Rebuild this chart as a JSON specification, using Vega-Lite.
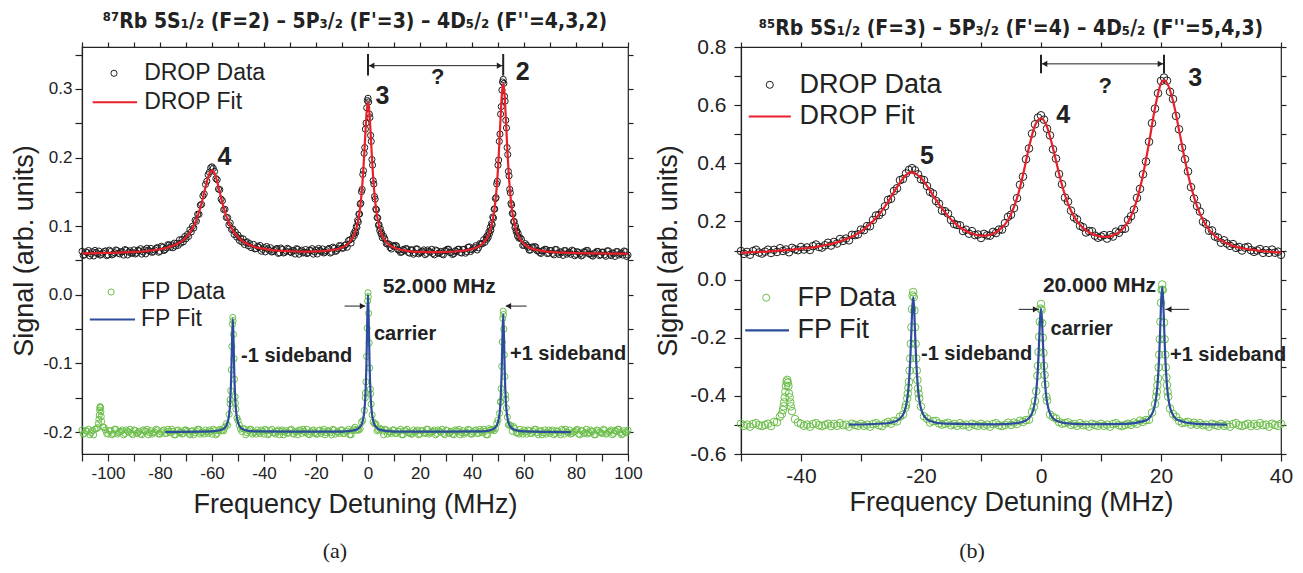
{
"$schema": "https://vega.github.io/schema/vega-lite/v6.json",
"background": "white",
"padding": {"left": 10, "top": 10, "right": 8, "bottom": 6},
"bounds": "flush",
"spacing": 113,
"config": {
 "view": {"stroke": "#222", "strokeWidth": 1.2},
 "axis": {"grid": false, "domainColor": "#222", "domainWidth": 1.2, "tickColor": "#222", "tickWidth": 1.2, "tickSize": 7, "labelColor": "#222", "titleColor": "#222", "labelFont": "Liberation Sans", "titleFont": "Liberation Sans", "titleFontWeight": "normal"},
 "title": {"font": "Liberation Sans Narrow, DejaVu Sans Condensed, sans-serif", "fontSize": 21, "fontWeight": "bold", "color": "#222", "anchor": "middle"},
 "text": {"font": "Liberation Sans", "color": "#222"}
},
"datasets": {
"Ld": [{"x":-110,"y":0.0633},{"x":-109,"y":0.0584},{"x":-108,"y":0.0614},{"x":-107,"y":0.0565},{"x":-106,"y":0.0626},{"x":-105,"y":0.0646},{"x":-104,"y":0.0597},{"x":-103,"y":0.0578},{"x":-102,"y":0.0608},{"x":-101,"y":0.0639},{"x":-100,"y":0.058},{"x":-99,"y":0.0631},{"x":-98,"y":0.0592},{"x":-97,"y":0.0653},{"x":-96,"y":0.0605},{"x":-95,"y":0.0626},{"x":-94,"y":0.0578},{"x":-93,"y":0.0649},{"x":-92,"y":0.0621},{"x":-91,"y":0.0602},{"x":-90,"y":0.0654},{"x":-89,"y":0.0607},{"x":-88,"y":0.064},{"x":-87,"y":0.0592},{"x":-86,"y":0.0655},{"x":-85,"y":0.0678},{"x":-84,"y":0.0633},{"x":-83,"y":0.0618},{"x":-82,"y":0.0653},{"x":-81,"y":0.0688},{"x":-80,"y":0.0633},{"x":-79,"y":0.0691},{"x":-78,"y":0.0659},{"x":-77,"y":0.073},{"x":-76,"y":0.069},
{"x":-109.5,"y":0.0573},{"x":-108.5,"y":0.0624},{"x":-107.5,"y":0.0645},{"x":-106.5,"y":0.0595},{"x":-105.5,"y":0.0566},{"x":-104.5,"y":0.0617},{"x":-103.5,"y":0.0637},{"x":-102.5,"y":0.0588},{"x":-101.5,"y":0.0629},{"x":-100.5,"y":0.057},{"x":-99.5,"y":0.065},{"x":-98.5,"y":0.0581},{"x":-97.5,"y":0.0612},{"x":-96.5,"y":0.0644},{"x":-95.5,"y":0.0595},{"x":-94.5,"y":0.0627},{"x":-93.5,"y":0.0658},{"x":-92.5,"y":0.058},{"x":-91.5,"y":0.0641},{"x":-90.5,"y":0.0613},{"x":-89.5,"y":0.0595},{"x":-88.5,"y":0.0648},{"x":-87.5,"y":0.0671},{"x":-86.5,"y":0.0623},{"x":-85.5,"y":0.0596},{"x":-84.5,"y":0.065},{"x":-83.5,"y":0.0675},{"x":-82.5,"y":0.063},{"x":-81.5,"y":0.0675},{"x":-80.5,"y":0.062},{"x":-79.5,"y":0.0707},{"x":-78.5,"y":0.0645},{"x":-77.5,"y":0.0684},{"x":-76.5,"y":0.0725},
{"x":-75.5,"y":0.0727},{"x":-75,"y":0.0685},{"x":-74.5,"y":0.0752},{"x":-74,"y":0.071},{"x":-73.5,"y":0.075},{"x":-73,"y":0.072},{"x":-72.5,"y":0.0801},{"x":-72,"y":0.0752},{"x":-71.5,"y":0.0806},{"x":-71,"y":0.0772},{"x":-70.5,"y":0.0848},{"x":-70,"y":0.0816},{"x":-69.5,"y":0.0877},{"x":-69,"y":0.085},{"x":-68.5,"y":0.0946},{"x":-68,"y":0.0915},{"x":-67.5,"y":0.0998},{"x":-67,"y":0.0974},{"x":-66.5,"y":0.1086},{"x":-66,"y":0.1072},{"x":-65.5,"y":0.1174},{"x":-65,"y":0.1172},{"x":-64.5,"y":0.1306},{"x":-64,"y":0.1316},{"x":-63.5,"y":0.1441},{"x":-63,"y":0.1469},{"x":-62.5,"y":0.1608},{"x":-62,"y":0.1654},{"x":-61.5,"y":0.175},{"x":-61,"y":0.1785},{"x":-60.5,"y":0.185},{"x":-60,"y":0.1864},{"x":-59.5,"y":0.1841},{"x":-59,"y":0.1797},{"x":-58.5,"y":0.1692},{"x":-58,"y":0.1676},{"x":-57.5,"y":0.154},{"x":-57,"y":0.1531},{"x":-56.5,"y":0.1393},{"x":-56,"y":0.1369},{"x":-55.5,"y":0.1239},{"x":-55,"y":0.1245},{"x":-54.5,"y":0.1127},{"x":-54,"y":0.1125},{"x":-53.5,"y":0.1019},{"x":-53,"y":0.1047},{"x":-52.5,"y":0.0951},{"x":-52,"y":0.0958},{"x":-51.5,"y":0.0879},{"x":-51,"y":0.0913},{"x":-50.5,"y":0.084},{"x":-50,"y":0.087},{"x":-49.5,"y":0.0792},{"x":-49,"y":0.0825},{"x":-48.5,"y":0.0769},{"x":-48,"y":0.0814},{"x":-47.5,"y":0.0732},{"x":-47,"y":0.0762},{"x":-46.5,"y":0.0772},{"x":-46,"y":0.0712},{"x":-45.5,"y":0.0745},{"x":-45,"y":0.0688},
{"x":-44,"y":0.0734},{"x":-43,"y":0.0673},{"x":-42,"y":0.0692},{"x":-41,"y":0.0635},{"x":-40,"y":0.0688},{"x":-39,"y":0.0703},{"x":-38,"y":0.0648},{"x":-37,"y":0.0623},{"x":-36,"y":0.0648},{"x":-35,"y":0.0674},{"x":-34,"y":0.0612},{"x":-33,"y":0.066},{"x":-32,"y":0.0618},{"x":-31,"y":0.0676},{"x":-30,"y":0.0625},{"x":-29,"y":0.0644},{"x":-28,"y":0.0593},{"x":-27,"y":0.0662},{"x":-26,"y":0.0631},{"x":-25,"y":0.061},{"x":-24,"y":0.066},{"x":-23,"y":0.0611},{"x":-22,"y":0.0642},{"x":-21,"y":0.0592},{"x":-20,"y":0.0653},{"x":-19,"y":0.0675},{"x":-18,"y":0.0627},{"x":-17,"y":0.0609},{"x":-16,"y":0.0642},{"x":-15,"y":0.0675},{"x":-14,"y":0.0621},{"x":-13,"y":0.0677},{"x":-12,"y":0.0645},{"x":-11,"y":0.0716},{"x":-10,"y":0.068},{"x":-9,"y":0.0719},{"x":-8,"y":0.0693},{"x":-7,"y":0.08},{"x":-6,"y":0.0823},
{"x":-43.5,"y":0.0668},{"x":-42.5,"y":0.0707},{"x":-41.5,"y":0.0718},{"x":-40.5,"y":0.0661},{"x":-39.5,"y":0.0625},{"x":-38.5,"y":0.067},{"x":-37.5,"y":0.0685},{"x":-36.5,"y":0.063},{"x":-35.5,"y":0.0666},{"x":-34.5,"y":0.0603},{"x":-33.5,"y":0.0681},{"x":-32.5,"y":0.0609},{"x":-31.5,"y":0.0637},{"x":-30.5,"y":0.0665},{"x":-29.5,"y":0.0614},{"x":-28.5,"y":0.0643},{"x":-27.5,"y":0.0672},{"x":-26.5,"y":0.0591},{"x":-25.5,"y":0.065},{"x":-24.5,"y":0.062},{"x":-23.5,"y":0.06},{"x":-22.5,"y":0.0651},{"x":-21.5,"y":0.0672},{"x":-20.5,"y":0.0623},{"x":-19.5,"y":0.0594},{"x":-18.5,"y":0.0646},{"x":-17.5,"y":0.0668},{"x":-16.5,"y":0.062},{"x":-15.5,"y":0.0663},{"x":-14.5,"y":0.0608},{"x":-13.5,"y":0.0694},{"x":-12.5,"y":0.0631},{"x":-11.5,"y":0.067},{"x":-10.5,"y":0.0713},{"x":-9.5,"y":0.0679},{"x":-8.5,"y":0.073},{"x":-7.5,"y":0.079},{"x":-6.5,"y":0.0754},
{"x":-5.5,"y":0.089},{"x":-5.25,"y":0.0862},{"x":-5,"y":0.0926},{"x":-4.75,"y":0.0904},{"x":-4.5,"y":0.0996},{"x":-4.25,"y":0.0982},{"x":-4,"y":0.1083},{"x":-3.75,"y":0.106},{"x":-3.5,"y":0.1175},{"x":-3.25,"y":0.1177},{"x":-3,"y":0.132},{"x":-2.75,"y":0.1334},{"x":-2.5,"y":0.1502},{"x":-2.25,"y":0.1534},{"x":-2,"y":0.1753},{"x":-1.75,"y":0.1809},{"x":-1.5,"y":0.2061},{"x":-1.25,"y":0.2145},{"x":-1,"y":0.2413},{"x":-0.75,"y":0.2502},{"x":-0.5,"y":0.2724},{"x":-0.25,"y":0.2829},{"x":0,"y":0.2863},{"x":0.25,"y":0.2809},{"x":0.5,"y":0.2634},{"x":0.75,"y":0.2582},{"x":1,"y":0.2323},{"x":1.25,"y":0.2235},{"x":1.5,"y":0.1971},{"x":1.75,"y":0.1889},{"x":2,"y":0.1663},{"x":2.25,"y":0.1614},{"x":2.5,"y":0.1432},{"x":2.75,"y":0.1394},{"x":3,"y":0.125},{"x":3.25,"y":0.1237},{"x":3.5,"y":0.1125},{"x":3.75,"y":0.112},{"x":4,"y":0.1013},{"x":4.25,"y":0.1022},{"x":4.5,"y":0.0936},{"x":4.75,"y":0.0964},{"x":5,"y":0.0886},{"x":5.25,"y":0.0902},{"x":5.5,"y":0.083},
{"x":6,"y":0.0853},{"x":7,"y":0.0748},{"x":8,"y":0.0741},{"x":9,"y":0.0666},{"x":10,"y":0.0707},{"x":11,"y":0.0712},{"x":12,"y":0.065},{"x":13,"y":0.0623},{"x":14,"y":0.0646},{"x":15,"y":0.067},{"x":16,"y":0.0606},{"x":17,"y":0.0653},{"x":18,"y":0.061},{"x":19,"y":0.0667},{"x":20,"y":0.0615},{"x":21,"y":0.0634},{"x":22,"y":0.0584},{"x":23,"y":0.0653},{"x":24,"y":0.0622},{"x":25,"y":0.0602},{"x":26,"y":0.0652},{"x":27,"y":0.0602},{"x":28,"y":0.0632},{"x":29,"y":0.0582},{"x":30,"y":0.0643},{"x":31,"y":0.0664},{"x":32,"y":0.0616},{"x":33,"y":0.0598},{"x":34,"y":0.0631},{"x":35,"y":0.0664},{"x":36,"y":0.0608},{"x":37,"y":0.0663},{"x":38,"y":0.0629},{"x":39,"y":0.0697},{"x":40,"y":0.0656},{"x":41,"y":0.0688},{"x":42,"y":0.0653},{"x":43,"y":0.0745},{"x":44,"y":0.0744},{"x":45,"y":0.0765},
{"x":6.5,"y":0.0814},{"x":7.5,"y":0.0738},{"x":8.5,"y":0.0688},{"x":9.5,"y":0.0716},{"x":10.5,"y":0.0719},{"x":11.5,"y":0.0656},{"x":12.5,"y":0.0616},{"x":13.5,"y":0.066},{"x":14.5,"y":0.0673},{"x":15.5,"y":0.0618},{"x":16.5,"y":0.0654},{"x":17.5,"y":0.0591},{"x":18.5,"y":0.0668},{"x":19.5,"y":0.0596},{"x":20.5,"y":0.0624},{"x":21.5,"y":0.0654},{"x":22.5,"y":0.0603},{"x":23.5,"y":0.0632},{"x":24.5,"y":0.0662},{"x":25.5,"y":0.0582},{"x":26.5,"y":0.0642},{"x":27.5,"y":0.0612},{"x":28.5,"y":0.0592},{"x":29.5,"y":0.0642},{"x":30.5,"y":0.0663},{"x":31.5,"y":0.0615},{"x":32.5,"y":0.0587},{"x":33.5,"y":0.0639},{"x":34.5,"y":0.0662},{"x":35.5,"y":0.0616},{"x":36.5,"y":0.066},{"x":37.5,"y":0.0606},{"x":38.5,"y":0.0693},{"x":39.5,"y":0.0631},{"x":40.5,"y":0.0672},{"x":41.5,"y":0.0715},{"x":42.5,"y":0.0684},{"x":43.5,"y":0.0739},{"x":44.5,"y":0.0804},
{"x":45.5,"y":0.0842},{"x":45.75,"y":0.0808},{"x":46,"y":0.0866},{"x":46.25,"y":0.0836},{"x":46.5,"y":0.0918},{"x":46.75,"y":0.0892},{"x":47,"y":0.098},{"x":47.25,"y":0.0941},{"x":47.5,"y":0.1037},{"x":47.75,"y":0.1018},{"x":48,"y":0.1134},{"x":48.25,"y":0.1117},{"x":48.5,"y":0.1248},{"x":48.75,"y":0.1249},{"x":49,"y":0.1401},{"x":49.25,"y":0.1416},{"x":49.5,"y":0.1616},{"x":49.75,"y":0.1653},{"x":50,"y":0.1888},{"x":50.25,"y":0.1963},{"x":50.5,"y":0.2235},{"x":50.75,"y":0.2341},{"x":51,"y":0.2632},{"x":51.25,"y":0.2742},{"x":51.5,"y":0.2982},{"x":51.75,"y":0.31},{"x":52,"y":0.3138},{"x":52.25,"y":0.308},{"x":52.5,"y":0.2892},{"x":52.75,"y":0.2822},{"x":53,"y":0.2542},{"x":53.25,"y":0.2431},{"x":53.5,"y":0.2145},{"x":53.75,"y":0.2043},{"x":54,"y":0.1798},{"x":54.25,"y":0.1733},{"x":54.5,"y":0.1536},{"x":54.75,"y":0.1486},{"x":55,"y":0.1331},{"x":55.25,"y":0.1309},{"x":55.5,"y":0.1188},{"x":55.75,"y":0.1177},{"x":56,"y":0.1064},{"x":56.25,"y":0.1068},{"x":56.5,"y":0.0977},{"x":56.75,"y":0.1001},{"x":57,"y":0.092},{"x":57.25,"y":0.0932},{"x":57.5,"y":0.0858},{"x":57.75,"y":0.0896},{"x":58,"y":0.0826},{"x":58.5,"y":0.0832},
{"x":59,"y":0.0812},{"x":60,"y":0.0721},{"x":61,"y":0.0722},{"x":62,"y":0.065},{"x":63,"y":0.0695},{"x":64,"y":0.0702},{"x":65,"y":0.0643},{"x":66,"y":0.0615},{"x":67,"y":0.0639},{"x":68,"y":0.0663},{"x":69,"y":0.0599},{"x":70,"y":0.0645},{"x":71,"y":0.0602},{"x":72,"y":0.066},{"x":73,"y":0.0608},{"x":74,"y":0.0626},{"x":75,"y":0.0574},{"x":76,"y":0.0643},{"x":77,"y":0.0611},{"x":78,"y":0.059},{"x":79,"y":0.0639},{"x":80,"y":0.0588},{"x":81,"y":0.0617},{"x":82,"y":0.0566},{"x":83,"y":0.0626},{"x":84,"y":0.0645},{"x":85,"y":0.0594},{"x":86,"y":0.0574},{"x":87,"y":0.0603},{"x":88,"y":0.0632},{"x":89,"y":0.0572},{"x":90,"y":0.0621},{"x":91,"y":0.0581},{"x":92,"y":0.064},{"x":93,"y":0.059},{"x":94,"y":0.061},{"x":95,"y":0.0559},{"x":96,"y":0.0629},{"x":97,"y":0.0599},{"x":98,"y":0.0578},{"x":99,"y":0.0628},{"x":100,"y":0.0578},
{"x":59.5,"y":0.072},{"x":60.5,"y":0.0746},{"x":61.5,"y":0.0691},{"x":62.5,"y":0.0652},{"x":63.5,"y":0.0688},{"x":64.5,"y":0.0697},{"x":65.5,"y":0.0639},{"x":66.5,"y":0.0602},{"x":67.5,"y":0.0646},{"x":68.5,"y":0.0661},{"x":69.5,"y":0.0607},{"x":70.5,"y":0.0644},{"x":71.5,"y":0.0581},{"x":72.5,"y":0.0659},{"x":73.5,"y":0.0587},{"x":74.5,"y":0.0615},{"x":75.5,"y":0.0644},{"x":76.5,"y":0.0592},{"x":77.5,"y":0.0621},{"x":78.5,"y":0.065},{"x":79.5,"y":0.0569},{"x":80.5,"y":0.0628},{"x":81.5,"y":0.0597},{"x":82.5,"y":0.0576},{"x":83.5,"y":0.0625},{"x":84.5,"y":0.0645},{"x":85.5,"y":0.0594},{"x":86.5,"y":0.0563},{"x":87.5,"y":0.0613},{"x":88.5,"y":0.0632},{"x":89.5,"y":0.0582},{"x":90.5,"y":0.0621},{"x":91.5,"y":0.0561},{"x":92.5,"y":0.064},{"x":93.5,"y":0.057},{"x":94.5,"y":0.06},{"x":95.5,"y":0.0629},{"x":96.5,"y":0.0579},{"x":97.5,"y":0.0608},{"x":98.5,"y":0.0638},{"x":99.5,"y":0.0558}],
"Lf": [{"x":-110,"y":0.0603},{"x":-100,"y":0.061},{"x":-90,"y":0.0624},{"x":-85,"y":0.0638},{"x":-80,"y":0.0663},{"x":-76,"y":0.07},{"x":-72,"y":0.0772},{"x":-70,"y":0.0836},{"x":-68,"y":0.0935},{"x":-66,"y":0.1092},{"x":-65,"y":0.1202},{"x":-64,"y":0.1336},{"x":-63,"y":0.1489},{"x":-62,"y":0.1644},{"x":-61,"y":0.1765},{"x":-60,"y":0.1814},{"x":-59,"y":0.1767},{"x":-58,"y":0.1646},{"x":-57,"y":0.1491},{"x":-56,"y":0.1339},{"x":-55,"y":0.1205},{"x":-54,"y":0.1095},{"x":-52,"y":0.0938},{"x":-50,"y":0.084},{"x":-48,"y":0.0774},{"x":-46,"y":0.0732},{"x":-44,"y":0.0704},{"x":-40,"y":0.0668},{"x":-35,"y":0.0644},{"x":-30,"y":0.0635},{"x":-25,"y":0.063},{"x":-20,"y":0.0633},{"x":-15,"y":0.0645},{"x":-10,"y":0.069},{"x":-8,"y":0.0733},{"x":-6,"y":0.0823},{"x":-5,"y":0.0906},{"x":-4,"y":0.1043},{"x":-3.5,"y":0.1145},{"x":-3,"y":0.128},{"x":-2.5,"y":0.1462},{"x":-2,"y":0.1703},{"x":-1.5,"y":0.2011},{"x":-1,"y":0.2363},{"x":-0.5,"y":0.2674},{"x":0,"y":0.2803},{"x":0.5,"y":0.2674},{"x":1,"y":0.2363},{"x":1.5,"y":0.2011},{"x":2,"y":0.1703},{"x":2.5,"y":0.1462},{"x":3,"y":0.128},{"x":3.5,"y":0.1145},{"x":4,"y":0.1043},{"x":5,"y":0.0906},{"x":6,"y":0.0823},{"x":8,"y":0.0731},{"x":10,"y":0.0687},{"x":15,"y":0.064},{"x":20,"y":0.0625},{"x":25,"y":0.0622},{"x":30,"y":0.0623},{"x":35,"y":0.0634},{"x":40,"y":0.0666},{"x":42,"y":0.0693},{"x":44,"y":0.0744},{"x":46,"y":0.0846},{"x":47,"y":0.094},{"x":48,"y":0.1094},{"x":48.5,"y":0.1208},{"x":49,"y":0.1361},{"x":49.5,"y":0.1566},{"x":50,"y":0.1838},{"x":50.5,"y":0.2185},{"x":51,"y":0.2582},{"x":51.5,"y":0.2932},{"x":52,"y":0.3078},{"x":52.5,"y":0.2932},{"x":53,"y":0.2582},{"x":53.5,"y":0.2185},{"x":54,"y":0.1838},{"x":54.5,"y":0.1566},{"x":55,"y":0.1361},{"x":55.5,"y":0.1208},{"x":56,"y":0.1094},{"x":57,"y":0.094},{"x":58,"y":0.0846},{"x":60,"y":0.0741},{"x":62,"y":0.069},{"x":64,"y":0.0662},{"x":68,"y":0.0633},{"x":75,"y":0.0614},{"x":80,"y":0.0608},{"x":90,"y":0.0601},{"x":100,"y":0.0598}],
"Lp": [{"x":-110,"y":-0.197},{"x":-109,"y":-0.202},{"x":-108,"y":-0.199},{"x":-107,"y":-0.204},{"x":-106,"y":-0.198},{"x":-105,"y":-0.196},{"x":-104,"y":-0.1936},{"x":-102,"y":-0.1926},{"x":-101,"y":-0.197},{"x":-100,"y":-0.203},{"x":-99,"y":-0.198},{"x":-98,"y":-0.202},{"x":-97,"y":-0.196},{"x":-96,"y":-0.201},{"x":-95,"y":-0.199},{"x":-94,"y":-0.204},{"x":-93,"y":-0.197},{"x":-92,"y":-0.2},{"x":-91,"y":-0.202},{"x":-90,"y":-0.197},{"x":-89,"y":-0.202},{"x":-88,"y":-0.199},{"x":-87,"y":-0.204},{"x":-86,"y":-0.198},{"x":-85,"y":-0.196},{"x":-84,"y":-0.201},{"x":-83,"y":-0.203},{"x":-82,"y":-0.2},{"x":-81,"y":-0.197},{"x":-80,"y":-0.203},{"x":-79,"y":-0.198},{"x":-78,"y":-0.202},{"x":-77,"y":-0.196},{"x":-76,"y":-0.201},{"x":-75,"y":-0.199},{"x":-74,"y":-0.204},{"x":-73,"y":-0.197},{"x":-72,"y":-0.2},{"x":-71,"y":-0.202},{"x":-70,"y":-0.197},{"x":-69,"y":-0.202},{"x":-68,"y":-0.199},{"x":-67,"y":-0.204},{"x":-66,"y":-0.198},{"x":-65,"y":-0.196},{"x":-64,"y":-0.201},{"x":-63,"y":-0.203},{"x":-62,"y":-0.2},{"x":-61,"y":-0.197},{"x":-60,"y":-0.203},{"x":-59,"y":-0.198},{"x":-58,"y":-0.202},{"x":-57,"y":-0.196},{"x":-56,"y":-0.1973},{"x":-55,"y":-0.1926},{"x":-54,"y":-0.1902},{"x":-53,"y":-0.1528},{"x":-51,"y":-0.1578},{"x":-50,"y":-0.1832},{"x":-49,"y":-0.1956},{"x":-48,"y":-0.1953},{"x":-47,"y":-0.204},{"x":-46,"y":-0.198},{"x":-45,"y":-0.196},{"x":-44,"y":-0.201},{"x":-43,"y":-0.203},{"x":-42,"y":-0.2},{"x":-41,"y":-0.197},{"x":-40,"y":-0.203},{"x":-39,"y":-0.198},{"x":-38,"y":-0.202},{"x":-37,"y":-0.196},{"x":-36,"y":-0.201},{"x":-35,"y":-0.199},{"x":-34,"y":-0.204},{"x":-33,"y":-0.197},{"x":-32,"y":-0.2},{"x":-31,"y":-0.202},{"x":-30,"y":-0.197},{"x":-29,"y":-0.202},{"x":-28,"y":-0.199},{"x":-27,"y":-0.204},{"x":-26,"y":-0.198},{"x":-25,"y":-0.196},{"x":-24,"y":-0.201},{"x":-23,"y":-0.203},{"x":-22,"y":-0.2},{"x":-21,"y":-0.197},{"x":-20,"y":-0.203},{"x":-19,"y":-0.198},{"x":-18,"y":-0.202},{"x":-17,"y":-0.196},{"x":-16,"y":-0.201},{"x":-15,"y":-0.199},{"x":-14,"y":-0.204},{"x":-13,"y":-0.197},{"x":-12,"y":-0.2},{"x":-11,"y":-0.202},{"x":-10,"y":-0.197},{"x":-9,"y":-0.202},{"x":-8,"y":-0.199},{"x":-7,"y":-0.204},{"x":-6,"y":-0.198},{"x":-5,"y":-0.1931},{"x":-4,"y":-0.1965},{"x":-3,"y":-0.1952},{"x":-2,"y":-0.1832},{"x":-1,"y":-0.1432},{"x":1,"y":-0.1442},{"x":2,"y":-0.1852},{"x":3,"y":-0.1882},{"x":4,"y":-0.1965},{"x":5,"y":-0.1961},{"x":6,"y":-0.204},{"x":7,"y":-0.197},{"x":8,"y":-0.2},{"x":9,"y":-0.202},{"x":10,"y":-0.197},{"x":11,"y":-0.202},{"x":12,"y":-0.199},{"x":13,"y":-0.204},{"x":14,"y":-0.198},{"x":15,"y":-0.196},{"x":16,"y":-0.201},{"x":17,"y":-0.203},{"x":18,"y":-0.2},{"x":19,"y":-0.197},{"x":20,"y":-0.203},{"x":21,"y":-0.198},{"x":22,"y":-0.202},{"x":23,"y":-0.196},{"x":24,"y":-0.201},{"x":25,"y":-0.199},{"x":26,"y":-0.204},{"x":27,"y":-0.197},{"x":28,"y":-0.2},{"x":29,"y":-0.202},{"x":30,"y":-0.197},{"x":31,"y":-0.202},{"x":32,"y":-0.199},{"x":33,"y":-0.204},{"x":34,"y":-0.198},{"x":35,"y":-0.196},{"x":36,"y":-0.201},{"x":37,"y":-0.203},{"x":38,"y":-0.2},{"x":39,"y":-0.197},{"x":40,"y":-0.203},{"x":41,"y":-0.198},{"x":42,"y":-0.202},{"x":43,"y":-0.196},{"x":44,"y":-0.201},{"x":45,"y":-0.199},{"x":46,"y":-0.204},{"x":47,"y":-0.197},{"x":48,"y":-0.1961},{"x":49,"y":-0.1952},{"x":50,"y":-0.1825},{"x":51,"y":-0.1554},{"x":53,"y":-0.1524},{"x":54,"y":-0.1895},{"x":55,"y":-0.1912},{"x":56,"y":-0.1921},{"x":57,"y":-0.201},{"x":58,"y":-0.203},{"x":59,"y":-0.2},{"x":60,"y":-0.197},{"x":61,"y":-0.203},{"x":62,"y":-0.198},{"x":63,"y":-0.202},{"x":64,"y":-0.196},{"x":65,"y":-0.201},{"x":66,"y":-0.199},{"x":67,"y":-0.204},{"x":68,"y":-0.197},{"x":69,"y":-0.2},{"x":70,"y":-0.202},{"x":71,"y":-0.197},{"x":72,"y":-0.202},{"x":73,"y":-0.199},{"x":74,"y":-0.204},{"x":75,"y":-0.198},{"x":76,"y":-0.196},{"x":77,"y":-0.201},{"x":78,"y":-0.203},{"x":79,"y":-0.2},{"x":80,"y":-0.197},{"x":81,"y":-0.203},{"x":82,"y":-0.198},{"x":83,"y":-0.202},{"x":84,"y":-0.196},{"x":85,"y":-0.201},{"x":86,"y":-0.199},{"x":87,"y":-0.204},{"x":88,"y":-0.197},{"x":89,"y":-0.2},{"x":90,"y":-0.202},{"x":91,"y":-0.197},{"x":92,"y":-0.202},{"x":93,"y":-0.199},{"x":94,"y":-0.204},{"x":95,"y":-0.198},{"x":96,"y":-0.196},{"x":97,"y":-0.201},{"x":98,"y":-0.203},{"x":99,"y":-0.2},{"x":100,"y":-0.197},
{"x":-109.5,"y":-0.203},{"x":-108.5,"y":-0.198},{"x":-107.5,"y":-0.196},{"x":-106.5,"y":-0.201},{"x":-105.5,"y":-0.204},{"x":-104.5,"y":-0.1953},{"x":-101.5,"y":-0.1933},{"x":-100.5,"y":-0.202},{"x":-99.5,"y":-0.198},{"x":-98.5,"y":-0.204},{"x":-97.5,"y":-0.196},{"x":-96.5,"y":-0.203},{"x":-95.5,"y":-0.2},{"x":-94.5,"y":-0.197},{"x":-93.5,"y":-0.202},{"x":-92.5,"y":-0.199},{"x":-91.5,"y":-0.196},{"x":-90.5,"y":-0.204},{"x":-89.5,"y":-0.198},{"x":-88.5,"y":-0.201},{"x":-87.5,"y":-0.203},{"x":-86.5,"y":-0.197},{"x":-85.5,"y":-0.199},{"x":-84.5,"y":-0.204},{"x":-83.5,"y":-0.198},{"x":-82.5,"y":-0.201},{"x":-81.5,"y":-0.196},{"x":-80.5,"y":-0.203},{"x":-79.5,"y":-0.2},{"x":-78.5,"y":-0.197},{"x":-77.5,"y":-0.202},{"x":-76.5,"y":-0.199},{"x":-75.5,"y":-0.196},{"x":-74.5,"y":-0.204},{"x":-73.5,"y":-0.198},{"x":-72.5,"y":-0.201},{"x":-71.5,"y":-0.203},{"x":-70.5,"y":-0.197},{"x":-69.5,"y":-0.199},{"x":-68.5,"y":-0.204},{"x":-67.5,"y":-0.198},{"x":-66.5,"y":-0.201},{"x":-65.5,"y":-0.196},{"x":-64.5,"y":-0.203},{"x":-63.5,"y":-0.2},{"x":-62.5,"y":-0.197},{"x":-61.5,"y":-0.202},{"x":-60.5,"y":-0.199},{"x":-59.5,"y":-0.196},{"x":-58.5,"y":-0.204},{"x":-57.5,"y":-0.198},{"x":-56.5,"y":-0.1982},{"x":-55.5,"y":-0.1982},{"x":-54.5,"y":-0.1879},{"x":-49.5,"y":-0.1899},{"x":-48.5,"y":-0.1992},{"x":-47.5,"y":-0.1952},{"x":-46.5,"y":-0.201},{"x":-45.5,"y":-0.196},{"x":-44.5,"y":-0.203},{"x":-43.5,"y":-0.2},{"x":-42.5,"y":-0.197},{"x":-41.5,"y":-0.202},{"x":-40.5,"y":-0.199},{"x":-39.5,"y":-0.196},{"x":-38.5,"y":-0.204},{"x":-37.5,"y":-0.198},{"x":-36.5,"y":-0.201},{"x":-35.5,"y":-0.203},{"x":-34.5,"y":-0.197},{"x":-33.5,"y":-0.199},{"x":-32.5,"y":-0.204},{"x":-31.5,"y":-0.198},{"x":-30.5,"y":-0.201},{"x":-29.5,"y":-0.196},{"x":-28.5,"y":-0.203},{"x":-27.5,"y":-0.2},{"x":-26.5,"y":-0.197},{"x":-25.5,"y":-0.202},{"x":-24.5,"y":-0.199},{"x":-23.5,"y":-0.196},{"x":-22.5,"y":-0.204},{"x":-21.5,"y":-0.198},{"x":-20.5,"y":-0.201},{"x":-19.5,"y":-0.203},{"x":-18.5,"y":-0.197},{"x":-17.5,"y":-0.199},{"x":-16.5,"y":-0.204},{"x":-15.5,"y":-0.198},{"x":-14.5,"y":-0.201},{"x":-13.5,"y":-0.196},{"x":-12.5,"y":-0.203},{"x":-11.5,"y":-0.2},{"x":-10.5,"y":-0.197},{"x":-9.5,"y":-0.202},{"x":-8.5,"y":-0.199},{"x":-7.5,"y":-0.196},{"x":-6.5,"y":-0.204},{"x":-5.5,"y":-0.1956},{"x":-4.5,"y":-0.1975},{"x":-3.5,"y":-0.1972},{"x":-2.5,"y":-0.186},{"x":2.5,"y":-0.188},{"x":3.5,"y":-0.1982},{"x":4.5,"y":-0.1945},{"x":5.5,"y":-0.1986},{"x":6.5,"y":-0.196},{"x":7.5,"y":-0.203},{"x":8.5,"y":-0.2},{"x":9.5,"y":-0.197},{"x":10.5,"y":-0.202},{"x":11.5,"y":-0.199},{"x":12.5,"y":-0.196},{"x":13.5,"y":-0.204},{"x":14.5,"y":-0.198},{"x":15.5,"y":-0.201},{"x":16.5,"y":-0.203},{"x":17.5,"y":-0.197},{"x":18.5,"y":-0.199},{"x":19.5,"y":-0.204},{"x":20.5,"y":-0.198},{"x":21.5,"y":-0.201},{"x":22.5,"y":-0.196},{"x":23.5,"y":-0.203},{"x":24.5,"y":-0.2},{"x":25.5,"y":-0.197},{"x":26.5,"y":-0.202},{"x":27.5,"y":-0.199},{"x":28.5,"y":-0.196},{"x":29.5,"y":-0.204},{"x":30.5,"y":-0.198},{"x":31.5,"y":-0.201},{"x":32.5,"y":-0.203},{"x":33.5,"y":-0.197},{"x":34.5,"y":-0.199},{"x":35.5,"y":-0.204},{"x":36.5,"y":-0.198},{"x":37.5,"y":-0.201},{"x":38.5,"y":-0.196},{"x":39.5,"y":-0.203},{"x":40.5,"y":-0.2},{"x":41.5,"y":-0.197},{"x":42.5,"y":-0.202},{"x":43.5,"y":-0.199},{"x":44.5,"y":-0.196},{"x":45.5,"y":-0.204},{"x":46.5,"y":-0.1951},{"x":47.5,"y":-0.1968},{"x":48.5,"y":-0.198},{"x":49.5,"y":-0.1874},{"x":54.5,"y":-0.1894},{"x":55.5,"y":-0.199},{"x":56.5,"y":-0.1949},{"x":57.5,"y":-0.201},{"x":58.5,"y":-0.196},{"x":59.5,"y":-0.203},{"x":60.5,"y":-0.2},{"x":61.5,"y":-0.197},{"x":62.5,"y":-0.202},{"x":63.5,"y":-0.199},{"x":64.5,"y":-0.196},{"x":65.5,"y":-0.204},{"x":66.5,"y":-0.198},{"x":67.5,"y":-0.201},{"x":68.5,"y":-0.203},{"x":69.5,"y":-0.197},{"x":70.5,"y":-0.199},{"x":71.5,"y":-0.204},{"x":72.5,"y":-0.198},{"x":73.5,"y":-0.201},{"x":74.5,"y":-0.196},{"x":75.5,"y":-0.203},{"x":76.5,"y":-0.2},{"x":77.5,"y":-0.197},{"x":78.5,"y":-0.202},{"x":79.5,"y":-0.199},{"x":80.5,"y":-0.196},{"x":81.5,"y":-0.204},{"x":82.5,"y":-0.198},{"x":83.5,"y":-0.201},{"x":84.5,"y":-0.203},{"x":85.5,"y":-0.197},{"x":86.5,"y":-0.199},{"x":87.5,"y":-0.204},{"x":88.5,"y":-0.198},{"x":89.5,"y":-0.201},{"x":90.5,"y":-0.196},{"x":91.5,"y":-0.203},{"x":92.5,"y":-0.2},{"x":93.5,"y":-0.197},{"x":94.5,"y":-0.202},{"x":95.5,"y":-0.199},{"x":96.5,"y":-0.196},{"x":97.5,"y":-0.204},{"x":98.5,"y":-0.198},{"x":99.5,"y":-0.201},
{"x":-103.7,"y":-0.1874},{"x":-103.5,"y":-0.1815},{"x":-103.35,"y":-0.1752},{"x":-103.2,"y":-0.1681},{"x":-103.1,"y":-0.1644},{"x":-103,"y":-0.163},{"x":-102.9,"y":-0.1644},{"x":-102.75,"y":-0.1704},{"x":-102.6,"y":-0.1774},{"x":-102.4,"y":-0.1848},
{"x":-53.4,"y":-0.1741},{"x":-53.05,"y":-0.1589},{"x":-52.8,"y":-0.1399},{"x":-52.55,"y":-0.1093},{"x":-52.35,"y":-0.0754},{"x":-52.15,"y":-0.043},{"x":-52,"y":-0.033},{"x":-51.9,"y":-0.0375},{"x":-51.75,"y":-0.0577},{"x":-51.55,"y":-0.0931},{"x":-51.35,"y":-0.1232},{"x":-51.1,"y":-0.1486},{"x":-50.8,"y":-0.1666},{"x":-50.4,"y":-0.1795},
{"x":-1.4,"y":-0.1685},{"x":-1.05,"y":-0.1501},{"x":-0.8,"y":-0.1269},{"x":-0.55,"y":-0.0898},{"x":-0.35,"y":-0.0486},{"x":-0.15,"y":-0.009},{"x":0,"y":0.003},{"x":0.1,"y":-0.0025},{"x":0.25,"y":-0.027},{"x":0.45,"y":-0.07},{"x":0.65,"y":-0.1066},{"x":0.9,"y":-0.1375},{"x":1.2,"y":-0.1594},{"x":1.6,"y":-0.175},
{"x":50.6,"y":-0.1727},{"x":50.95,"y":-0.1567},{"x":51.2,"y":-0.1366},{"x":51.45,"y":-0.1044},{"x":51.65,"y":-0.0687},{"x":51.85,"y":-0.0344},{"x":52,"y":-0.024},{"x":52.1,"y":-0.0288},{"x":52.25,"y":-0.05},{"x":52.45,"y":-0.0874},{"x":52.65,"y":-0.119},{"x":52.9,"y":-0.1458},{"x":53.2,"y":-0.1648},{"x":53.6,"y":-0.1784}],
"Lq": [{"x":-78,"y":-0.2},{"x":-60,"y":-0.1991},{"x":-56,"y":-0.1964},{"x":-54.5,"y":-0.191},{"x":-53.5,"y":-0.1772},{"x":-53,"y":-0.1563},{"x":-52.6,"y":-0.1175},{"x":-52.3,"y":-0.068},{"x":-52,"y":-0.035},{"x":-51.7,"y":-0.068},{"x":-51.4,"y":-0.1175},{"x":-51,"y":-0.1563},{"x":-50.5,"y":-0.1772},{"x":-49.5,"y":-0.191},{"x":-48,"y":-0.1964},{"x":-44,"y":-0.1991},{"x":-30,"y":-0.1995},{"x":-10,"y":-0.1993},{"x":-5,"y":-0.1972},{"x":-3,"y":-0.1923},{"x":-2,"y":-0.1835},{"x":-1.5,"y":-0.1724},{"x":-1,"y":-0.147},{"x":-0.6,"y":-0.1},{"x":-0.3,"y":-0.04},{"x":0,"y":0},{"x":0.3,"y":-0.04},{"x":0.6,"y":-0.1},{"x":1,"y":-0.147},{"x":1.5,"y":-0.1724},{"x":2,"y":-0.1835},{"x":3,"y":-0.1923},{"x":5,"y":-0.1972},{"x":10,"y":-0.1993},{"x":30,"y":-0.1995},{"x":44,"y":-0.199},{"x":48,"y":-0.1962},{"x":49.5,"y":-0.1906},{"x":50.5,"y":-0.1763},{"x":51,"y":-0.1544},{"x":51.4,"y":-0.114},{"x":51.7,"y":-0.0624},{"x":52,"y":-0.028},{"x":52.3,"y":-0.0624},{"x":52.6,"y":-0.114},{"x":53,"y":-0.1544},{"x":53.5,"y":-0.1763},{"x":54.5,"y":-0.1906},{"x":56,"y":-0.1962},{"x":60,"y":-0.199},{"x":78,"y":-0.2}],
"Ln": [{"x":-86.1,"y":0.3227,"t":"DROP Data","k":"leg"},{"x":-86.1,"y":0.2805,"t":"DROP Fit","k":"leg"},{"x":-87.3,"y":0.004,"t":"FP Data","k":"leg"},{"x":-87.3,"y":-0.036,"t":"FP Fit","k":"leg"},{"x":-55.2,"y":0.2004,"t":"4","k":"peak"},{"x":5.6,"y":0.29,"t":"3","k":"peak"},{"x":59.5,"y":0.324,"t":"2","k":"peak"},{"x":26.8,"y":0.317,"t":"?","k":"q"},{"x":27.4,"y":0.0116,"t":"52.000 MHz","k":"mhz"},{"x":2.3,"y":-0.057,"t":"carrier","k":"note"},{"x":-48.8,"y":-0.089,"t":"-1 sideband","k":"note"},{"x":54.6,"y":-0.087,"t":"+1 sideband","k":"note"},{"x":-12.7,"y":-0.373,"t":"(a)","k":"cap"}],
"Lh": [{"x":0,"x2":52,"y":0.3338,"k":"k"},{"x":-9,"x2":-1,"y":-0.0165,"k":"k"},{"x":53,"x2":61,"y":-0.0165,"k":"k"},{"x":-105.9,"x2":-88.8,"y":0.2805,"k":"r"},{"x":-107,"x2":-89.6,"y":-0.036,"k":"b"}],
"Lv": [{"x":0,"y":0.3193,"y2":0.3508},{"x":52,"y":0.3193,"y2":0.3508}],
"Lt": [{"x":1.4,"y":0.3338,"s":"L"},{"x":50.6,"y":0.3338,"s":"R"},{"x":-2.1,"y":-0.0165,"s":"R"},{"x":54,"y":-0.0165,"s":"L"}],
"Lg": [{"x":-97.7,"y":0.3227,"k":"d"},{"x":-98.8,"y":0.004,"k":"f"}],
"Rd": [{"x":-50,"y":0.098},{"x":-49.5,"y":0.0885},{"x":-49,"y":0.095},{"x":-48.5,"y":0.0855},{"x":-48,"y":0.098},{"x":-47.5,"y":0.1025},{"x":-47,"y":0.093},{"x":-46.5,"y":0.0895},{"x":-46,"y":0.096},{"x":-45.5,"y":0.1028},{"x":-45,"y":0.0915},{"x":-44.5,"y":0.1023},{"x":-44,"y":0.095},{"x":-43.5,"y":0.1078},{"x":-43,"y":0.0985},{"x":-42.5,"y":0.1033},{"x":-42,"y":0.094},{"x":-41.5,"y":0.109},{"x":-41,"y":0.104},{"x":-40.5,"y":0.101},{"x":-40,"y":0.112},{"x":-39.5,"y":0.1033},{"x":-39,"y":0.1105},{"x":-38.5,"y":0.1018},{"x":-38,"y":0.115},{"x":-37.5,"y":0.1205},{"x":-37,"y":0.112},{"x":-36.5,"y":0.11},{"x":-36,"y":0.118},{"x":-35.5,"y":0.1265},{"x":-35,"y":0.117},{"x":-34.5,"y":0.1295},{"x":-34,"y":0.124},{"x":-33.5,"y":0.1395},{"x":-33,"y":0.133},{"x":-32.5,"y":0.141},{"x":-32,"y":0.135},{"x":-31.5,"y":0.154},{"x":-31,"y":0.153},{"x":-30.5,"y":0.1555},{"x":-30,"y":0.172},{"x":-29.5,"y":0.17},{"x":-29,"y":0.184},{"x":-28.5,"y":0.1835},{"x":-28,"y":0.205},{"x":-27.5,"y":0.2205},{"x":-27,"y":0.222},{"x":-26.5,"y":0.232},{"x":-26,"y":0.252},{"x":-25.5,"y":0.274},{"x":-25,"y":0.278},{"x":-24.5,"y":0.305},{"x":-24,"y":0.314},{"x":-23.5,"y":0.342},{"x":-23,"y":0.346},{"x":-22.5,"y":0.365},{"x":-22,"y":0.377},{"x":-21.5,"y":0.383},{"x":-21,"y":0.376},{"x":-20.5,"y":0.362},{"x":-20,"y":0.345},{"x":-19.5,"y":0.342},{"x":-19,"y":0.322},{"x":-18.5,"y":0.302},{"x":-18,"y":0.296},{"x":-17.5,"y":0.2705},{"x":-17,"y":0.261},{"x":-16.5,"y":0.237},{"x":-16,"y":0.235},{"x":-15.5,"y":0.227},{"x":-15,"y":0.205},{"x":-14.5,"y":0.1915},{"x":-14,"y":0.188},{"x":-13.5,"y":0.1865},{"x":-13,"y":0.167},{"x":-12.5,"y":0.1715},{"x":-12,"y":0.158},{"x":-11.5,"y":0.1665},{"x":-11,"y":0.153},{"x":-10.5,"y":0.155},{"x":-10,"y":0.143},{"x":-9.5,"y":0.157},{"x":-9,"y":0.152},{"x":-8.5,"y":0.151},{"x":-8,"y":0.164},{"x":-7.5,"y":0.16},{"x":-7,"y":0.172},{"x":-6.5,"y":0.172},{"x":-6,"y":0.194},{"x":-5.5,"y":0.2155},{"x":-5,"y":0.223},{"x":-4.5,"y":0.246},{"x":-4,"y":0.28},{"x":-3.5,"y":0.326},{"x":-3,"y":0.354},{"x":-2.5,"y":0.414},{"x":-2,"y":0.451},{"x":-1.5,"y":0.502},{"x":-1,"y":0.534},{"x":-0.5,"y":0.557},{"x":0,"y":0.565},{"x":0.5,"y":0.55},{"x":1,"y":0.519},{"x":1.5,"y":0.496},{"x":2,"y":0.448},{"x":2.5,"y":0.416},{"x":3,"y":0.363},{"x":3.5,"y":0.328},{"x":4,"y":0.282},{"x":4.5,"y":0.268},{"x":5,"y":0.237},{"x":5.5,"y":0.214},{"x":6,"y":0.207},{"x":6.5,"y":0.185},{"x":7,"y":0.18},{"x":7.5,"y":0.162},{"x":8,"y":0.167},{"x":8.5,"y":0.166},{"x":9,"y":0.151},{"x":9.5,"y":0.144},{"x":10,"y":0.148},{"x":10.5,"y":0.153},{"x":11,"y":0.141},{"x":11.5,"y":0.153},{"x":12,"y":0.148},{"x":12.5,"y":0.165},{"x":13,"y":0.161},{"x":13.5,"y":0.174},{"x":14,"y":0.175},{"x":14.5,"y":0.205},{"x":15,"y":0.218},{"x":15.5,"y":0.241},{"x":16,"y":0.281},{"x":16.5,"y":0.312},{"x":17,"y":0.362},{"x":17.5,"y":0.406},{"x":18,"y":0.474},{"x":18.5,"y":0.538},{"x":19,"y":0.588},{"x":19.5,"y":0.641},{"x":20,"y":0.683},{"x":20.5,"y":0.695},{"x":21,"y":0.684},{"x":21.5,"y":0.646},{"x":22,"y":0.621},{"x":22.5,"y":0.563},{"x":23,"y":0.517},{"x":23.5,"y":0.454},{"x":24,"y":0.414},{"x":24.5,"y":0.372},{"x":25,"y":0.318},{"x":25.5,"y":0.279},{"x":26,"y":0.253},{"x":26.5,"y":0.234},{"x":27,"y":0.199},{"x":27.5,"y":0.192},{"x":28,"y":0.168},{"x":28.5,"y":0.169},{"x":29,"y":0.148},{"x":29.5,"y":0.144},{"x":30,"y":0.127},{"x":30.5,"y":0.135},{"x":31,"y":0.124},{"x":31.5,"y":0.116},{"x":32,"y":0.122},{"x":32.5,"y":0.109},{"x":33,"y":0.112},{"x":33.5,"y":0.1},{"x":34,"y":0.11},{"x":34.5,"y":0.1125},{"x":35,"y":0.101},{"x":35.5,"y":0.0955},{"x":36,"y":0.1},{"x":36.5,"y":0.105},{"x":37,"y":0.092},{"x":37.5,"y":0.101},{"x":38,"y":0.092},{"x":38.5,"y":0.103},{"x":39,"y":0.0925},{"x":39.5,"y":0.096},{"x":40,"y":0.085}],
"Rf": [{"x":-50,"y":0.092},{"x":-49,"y":0.093},{"x":-48,"y":0.094},{"x":-47,"y":0.095},{"x":-46,"y":0.096},{"x":-45,"y":0.0975},{"x":-44,"y":0.099},{"x":-43,"y":0.1005},{"x":-42,"y":0.102},{"x":-41,"y":0.104},{"x":-40,"y":0.106},{"x":-39,"y":0.1085},{"x":-38,"y":0.111},{"x":-37,"y":0.114},{"x":-36,"y":0.118},{"x":-35,"y":0.123},{"x":-34,"y":0.128},{"x":-33,"y":0.135},{"x":-32,"y":0.143},{"x":-31,"y":0.153},{"x":-30,"y":0.166},{"x":-29,"y":0.182},{"x":-28,"y":0.201},{"x":-27,"y":0.224},{"x":-26,"y":0.252},{"x":-25,"y":0.284},{"x":-24,"y":0.318},{"x":-23,"y":0.348},{"x":-22,"y":0.367},{"x":-21.5,"y":0.369},{"x":-21,"y":0.366},{"x":-20,"y":0.349},{"x":-19,"y":0.322},{"x":-18,"y":0.29},{"x":-17,"y":0.259},{"x":-16,"y":0.231},{"x":-15,"y":0.207},{"x":-14,"y":0.188},{"x":-13,"y":0.173},{"x":-12,"y":0.162},{"x":-11,"y":0.155},{"x":-10,"y":0.151},{"x":-9,"y":0.152},{"x":-8,"y":0.158},{"x":-7,"y":0.17},{"x":-6,"y":0.19},{"x":-5,"y":0.225},{"x":-4,"y":0.28},{"x":-3,"y":0.36},{"x":-2,"y":0.455},{"x":-1,"y":0.53},{"x":0,"y":0.555},{"x":1,"y":0.525},{"x":2,"y":0.452},{"x":3,"y":0.365},{"x":4,"y":0.29},{"x":5,"y":0.237},{"x":6,"y":0.201},{"x":7,"y":0.178},{"x":8,"y":0.163},{"x":9,"y":0.153},{"x":10,"y":0.148},{"x":11,"y":0.147},{"x":12,"y":0.152},{"x":13,"y":0.163},{"x":14,"y":0.183},{"x":15,"y":0.218},{"x":16,"y":0.275},{"x":17,"y":0.36},{"x":18,"y":0.47},{"x":19,"y":0.59},{"x":20,"y":0.675},{"x":20.5,"y":0.686},{"x":21,"y":0.676},{"x":22,"y":0.615},{"x":23,"y":0.515},{"x":24,"y":0.41},{"x":25,"y":0.32},{"x":26,"y":0.253},{"x":27,"y":0.205},{"x":28,"y":0.172},{"x":29,"y":0.15},{"x":30,"y":0.135},{"x":31,"y":0.124},{"x":32,"y":0.116},{"x":33,"y":0.11},{"x":34,"y":0.106},{"x":35,"y":0.103},{"x":36,"y":0.1},{"x":37,"y":0.098},{"x":38,"y":0.096},{"x":39,"y":0.0945},{"x":40,"y":0.093}],
"Rp": [{"x":-50,"y":-0.496},{"x":-49.5,"y":-0.503},{"x":-49,"y":-0.499},{"x":-48.5,"y":-0.506},{"x":-48,"y":-0.497},{"x":-47.5,"y":-0.494},{"x":-47,"y":-0.501},{"x":-46.5,"y":-0.504},{"x":-46,"y":-0.5},{"x":-45.5,"y":-0.496},{"x":-45,"y":-0.504},{"x":-44.5,"y":-0.4894},{"x":-44,"y":-0.4907},{"x":-43.5,"y":-0.4711},{"x":-43,"y":-0.4486},{"x":-42.5,"y":-0.3654},{"x":-42,"y":-0.392},{"x":-41.5,"y":-0.4524},{"x":-41,"y":-0.48},{"x":-40.5,"y":-0.4919},{"x":-40,"y":-0.496},{"x":-39.5,"y":-0.503},{"x":-39,"y":-0.499},{"x":-38.5,"y":-0.506},{"x":-38,"y":-0.497},{"x":-37.5,"y":-0.494},{"x":-37,"y":-0.501},{"x":-36.5,"y":-0.504},{"x":-36,"y":-0.5},{"x":-35.5,"y":-0.496},{"x":-35,"y":-0.504},{"x":-34.5,"y":-0.497},{"x":-34,"y":-0.503},{"x":-33.5,"y":-0.494},{"x":-33,"y":-0.501},{"x":-32.5,"y":-0.499},{"x":-32,"y":-0.506},{"x":-31.5,"y":-0.496},{"x":-31,"y":-0.5},{"x":-30.5,"y":-0.503},{"x":-30,"y":-0.496},{"x":-29.5,"y":-0.503},{"x":-29,"y":-0.499},{"x":-28.5,"y":-0.506},{"x":-28,"y":-0.497},{"x":-27.5,"y":-0.494},{"x":-27,"y":-0.501},{"x":-26.5,"y":-0.504},{"x":-26,"y":-0.4949},{"x":-25.5,"y":-0.4896},{"x":-25,"y":-0.4958},{"x":-24.5,"y":-0.4861},{"x":-24,"y":-0.4878},{"x":-23.5,"y":-0.4716},{"x":-23,"y":-0.4646},{"x":-22.5,"y":-0.4314},{"x":-22,"y":-0.3515},{"x":-21.5,"y":-0.102},{"x":-21,"y":-0.164},{"x":-20.5,"y":-0.375},{"x":-20,"y":-0.437},{"x":-19.5,"y":-0.4703},{"x":-19,"y":-0.4784},{"x":-18.5,"y":-0.4919},{"x":-18,"y":-0.4868},{"x":-17.5,"y":-0.4862},{"x":-17,"y":-0.4949},{"x":-16.5,"y":-0.4991},{"x":-16,"y":-0.496},{"x":-15.5,"y":-0.4926},{"x":-15,"y":-0.5011},{"x":-14.5,"y":-0.497},{"x":-14,"y":-0.503},{"x":-13.5,"y":-0.494},{"x":-13,"y":-0.501},{"x":-12.5,"y":-0.499},{"x":-12,"y":-0.506},{"x":-11.5,"y":-0.496},{"x":-11,"y":-0.5},{"x":-10.5,"y":-0.503},{"x":-10,"y":-0.496},{"x":-9.5,"y":-0.503},{"x":-9,"y":-0.499},{"x":-8.5,"y":-0.506},{"x":-8,"y":-0.497},{"x":-7.5,"y":-0.494},{"x":-7,"y":-0.501},{"x":-6.5,"y":-0.504},{"x":-6,"y":-0.5},{"x":-5.5,"y":-0.4927},{"x":-5,"y":-0.5},{"x":-4.5,"y":-0.492},{"x":-4,"y":-0.4966},{"x":-3.5,"y":-0.4857},{"x":-3,"y":-0.4899},{"x":-2.5,"y":-0.4831},{"x":-2,"y":-0.4818},{"x":-1.5,"y":-0.4548},{"x":-1,"y":-0.4176},{"x":-0.5,"y":-0.297},{"x":0,"y":-0.084},{"x":0.5,"y":-0.297},{"x":1,"y":-0.4166},{"x":1.5,"y":-0.4648},{"x":2,"y":-0.4728},{"x":2.5,"y":-0.4781},{"x":3,"y":-0.4899},{"x":3.5,"y":-0.4957},{"x":4,"y":-0.4936},{"x":4.5,"y":-0.491},{"x":5,"y":-0.5},{"x":5.5,"y":-0.497},{"x":6,"y":-0.503},{"x":6.5,"y":-0.494},{"x":7,"y":-0.501},{"x":7.5,"y":-0.499},{"x":8,"y":-0.506},{"x":8.5,"y":-0.496},{"x":9,"y":-0.5},{"x":9.5,"y":-0.503},{"x":10,"y":-0.496},{"x":10.5,"y":-0.503},{"x":11,"y":-0.499},{"x":11.5,"y":-0.506},{"x":12,"y":-0.497},{"x":12.5,"y":-0.494},{"x":13,"y":-0.501},{"x":13.5,"y":-0.504},{"x":14,"y":-0.5},{"x":14.5,"y":-0.496},{"x":15,"y":-0.4996},{"x":15.5,"y":-0.4916},{"x":16,"y":-0.4962},{"x":16.5,"y":-0.4853},{"x":17,"y":-0.4895},{"x":17.5,"y":-0.483},{"x":18,"y":-0.4823},{"x":18.5,"y":-0.4576},{"x":19,"y":-0.4285},{"x":19.5,"y":-0.34},{"x":20,"y":-0.08},{"x":20.5,"y":-0.148},{"x":21,"y":-0.363},{"x":21.5,"y":-0.4437},{"x":22,"y":-0.4624},{"x":22.5,"y":-0.4722},{"x":23,"y":-0.4861},{"x":23.5,"y":-0.4932},{"x":24,"y":-0.4918},{"x":24.5,"y":-0.4895},{"x":25,"y":-0.4988},{"x":25.5,"y":-0.4927},{"x":26,"y":-0.4994},{"x":26.5,"y":-0.494},{"x":27,"y":-0.501},{"x":27.5,"y":-0.499},{"x":28,"y":-0.506},{"x":28.5,"y":-0.496},{"x":29,"y":-0.5},{"x":29.5,"y":-0.503},{"x":30,"y":-0.496},{"x":30.5,"y":-0.503},{"x":31,"y":-0.499},{"x":31.5,"y":-0.506},{"x":32,"y":-0.497},{"x":32.5,"y":-0.494},{"x":33,"y":-0.501},{"x":33.5,"y":-0.504},{"x":34,"y":-0.5},{"x":34.5,"y":-0.496},{"x":35,"y":-0.504},{"x":35.5,"y":-0.497},{"x":36,"y":-0.503},{"x":36.5,"y":-0.494},{"x":37,"y":-0.501},{"x":37.5,"y":-0.499},{"x":38,"y":-0.506},{"x":38.5,"y":-0.496},{"x":39,"y":-0.5},{"x":39.5,"y":-0.503},{"x":40,"y":-0.496},
{"x":-43.2,"y":-0.463},{"x":-42.9,"y":-0.436},{"x":-42.8,"y":-0.4225},{"x":-42.7,"y":-0.405},{"x":-42.6,"y":-0.386},{"x":-42.4,"y":-0.351},{"x":-42.3,"y":-0.345},{"x":-42.2,"y":-0.355},{"x":-42.1,"y":-0.366},{"x":-41.9,"y":-0.405},{"x":-41.8,"y":-0.4225},{"x":-41.7,"y":-0.436},
{"x":-22.6,"y":-0.441},{"x":-22.3,"y":-0.4086},{"x":-22.2,"y":-0.392},{"x":-22.1,"y":-0.372},{"x":-21.9,"y":-0.313},{"x":-21.8,"y":-0.2715},{"x":-21.7,"y":-0.221},{"x":-21.6,"y":-0.164},{"x":-21.4,"y":-0.055},{"x":-21.3,"y":-0.043},{"x":-21.2,"y":-0.0606},{"x":-21.1,"y":-0.106},{"x":-20.9,"y":-0.221},{"x":-20.8,"y":-0.2715},{"x":-20.7,"y":-0.313},{"x":-20.6,"y":-0.3455},{"x":-20.4,"y":-0.392},{"x":-20.3,"y":-0.4086},
{"x":-1.2,"y":-0.439},{"x":-0.8,"y":-0.384},{"x":-0.6,"y":-0.331},{"x":-0.4,"y":-0.249},{"x":-0.3,"y":-0.197},{"x":-0.2,"y":-0.145},{"x":-0.1,"y":-0.1},{"x":0.1,"y":-0.104},{"x":0.2,"y":-0.15},{"x":0.3,"y":-0.2},{"x":0.4,"y":-0.252},{"x":0.6,"y":-0.328},{"x":0.7,"y":-0.361},{"x":0.9,"y":-0.403},
{"x":19.2,"y":-0.403},{"x":19.3,"y":-0.386},{"x":19.4,"y":-0.364},{"x":19.6,"y":-0.302},{"x":19.7,"y":-0.2585},{"x":19.8,"y":-0.2054},{"x":19.9,"y":-0.145},{"x":20.1,"y":-0.0356},{"x":20.2,"y":-0.017},{"x":20.3,"y":-0.0356},{"x":20.6,"y":-0.2054},{"x":20.7,"y":-0.2585},{"x":20.8,"y":-0.302},{"x":20.9,"y":-0.337},{"x":21.1,"y":-0.386},{"x":21.2,"y":-0.403}],
"Rq": [{"x":-32,"y":-0.499},{"x":-26,"y":-0.495},{"x":-24,"y":-0.4854},{"x":-23,"y":-0.465},{"x":-22.5,"y":-0.4349},{"x":-22.1,"y":-0.3764},{"x":-21.8,"y":-0.28},{"x":-21.6,"y":-0.1766},{"x":-21.45,"y":-0.0965},{"x":-21.3,"y":-0.06},{"x":-21.15,"y":-0.0965},{"x":-21,"y":-0.1766},{"x":-20.8,"y":-0.28},{"x":-20.5,"y":-0.3764},{"x":-20.1,"y":-0.4349},{"x":-19.6,"y":-0.465},{"x":-18.6,"y":-0.4854},{"x":-16,"y":-0.4957},{"x":-8,"y":-0.4978},{"x":-4,"y":-0.4935},{"x":-2.7,"y":-0.4867},{"x":-2,"y":-0.4765},{"x":-1.5,"y":-0.46},{"x":-1.2,"y":-0.4408},{"x":-0.8,"y":-0.3876},{"x":-0.5,"y":-0.3},{"x":-0.3,"y":-0.206},{"x":-0.15,"y":-0.1332},{"x":0,"y":-0.1},{"x":0.15,"y":-0.1332},{"x":0.3,"y":-0.206},{"x":0.5,"y":-0.3},{"x":0.8,"y":-0.3876},{"x":1.2,"y":-0.4408},{"x":1.5,"y":-0.46},{"x":2,"y":-0.4765},{"x":2.7,"y":-0.4867},{"x":4,"y":-0.4935},{"x":8,"y":-0.4976},{"x":14,"y":-0.4964},{"x":17.5,"y":-0.4842},{"x":18.2,"y":-0.4721},{"x":18.7,"y":-0.4525},{"x":19,"y":-0.4297},{"x":19.4,"y":-0.3665},{"x":19.7,"y":-0.2625},{"x":19.9,"y":-0.151},{"x":20.05,"y":-0.0644},{"x":20.2,"y":-0.025},{"x":20.35,"y":-0.0644},{"x":20.5,"y":-0.151},{"x":20.7,"y":-0.2625},{"x":21,"y":-0.3665},{"x":21.4,"y":-0.4297},{"x":21.7,"y":-0.4525},{"x":22.2,"y":-0.4721},{"x":22.9,"y":-0.4842},{"x":26,"y":-0.4965},{"x":31,"y":-0.499}],
"Rn": [{"x":-40.25,"y":0.67,"t":"DROP Data","k":"leg"},{"x":-40.25,"y":0.561,"t":"DROP Fit","k":"leg"},{"x":-40.6,"y":-0.0624,"t":"FP Data","k":"leg"},{"x":-40.6,"y":-0.175,"t":"FP Fit","k":"leg"},{"x":-19,"y":0.424,"t":"5","k":"peak"},{"x":3.7,"y":0.567,"t":"4","k":"peak"},{"x":25.7,"y":0.692,"t":"3","k":"peak"},{"x":10.7,"y":0.666,"t":"?","k":"q"},{"x":9.75,"y":-0.0225,"t":"20.000 MHz","k":"mhz"},{"x":1.6,"y":-0.171,"t":"carrier","k":"note"},{"x":-20,"y":-0.257,"t":"-1 sideband","k":"note"},{"x":21.5,"y":-0.26,"t":"+1 sideband","k":"note"},{"x":-11.5,"y":-0.933,"t":"(b)","k":"cap"}],
"Rh": [{"x":0,"x2":20.5,"y":0.742,"k":"k"},{"x":-3.7,"x2":-0.3,"y":-0.1025,"k":"k"},{"x":20.7,"x2":24.7,"y":-0.1025,"k":"k"},{"x":-48.7,"x2":-41.7,"y":0.561,"k":"r"},{"x":-49.3,"x2":-42,"y":-0.175,"k":"b"}],
"Rv": [{"x":0,"y":0.71,"y2":0.773},{"x":20.5,"y":0.71,"y2":0.773}],
"Rt": [{"x":0.6,"y":0.742,"s":"L"},{"x":19.9,"y":0.742,"s":"R"},{"x":-0.9,"y":-0.1025,"s":"R"},{"x":21.3,"y":-0.1025,"s":"L"}],
"Rg": [{"x":-45.2,"y":0.67,"k":"d"},{"x":-45.8,"y":-0.0624,"k":"f"}]
},
"hconcat": [
{
 "width": 546, "height": 407,
 "title": {"text": "⁸⁷Rb 5S₁/₂ (F=2) – 5P₃/₂ (F'=3) – 4D₅/₂ (F''=4,3,2)", "offset": 9},
 "resolve": {"axis": {"x": "independent", "y": "independent"}},
 "encoding": {
  "x": {"field": "x", "type": "quantitative", "scale": {"domain": [-110, 100], "nice": false, "zero": false}, "axis": null},
  "y": {"field": "y", "type": "quantitative", "scale": {"domain": [-0.232, 0.361], "nice": false, "zero": false}, "axis": null}
 },
 "layer": [
  {"data": {"name": "Ld"}, "mark": {"type": "point", "shape": "circle", "filled": false, "color": "#1e1e1e", "strokeWidth": 1, "size": 38, "opacity": 1},
   "encoding": {
    "x": {"field": "x", "type": "quantitative", "scale": {"domain": [-110, 100], "nice": false, "zero": false},
     "axis": {"orient": "bottom", "values": [-110,-100,-90,-80,-70,-60,-50,-40,-30,-20,-10,0,10,20,30,40,50,60,70,80,90,100], "labelExpr": "datum.value % 20 == 0 ? (datum.value < 0 ? '-' + abs(datum.value) : '' + datum.value) : ''", "title": "Frequency Detuning (MHz)", "titleFontSize": 27, "labelFontSize": 17, "labelPadding": 4, "titlePadding": 10, "labelFlush": false}},
    "y": {"field": "y", "type": "quantitative", "scale": {"domain": [-0.232, 0.361], "nice": false, "zero": false},
     "axis": {"orient": "left", "values": [-0.2,-0.15,-0.1,-0.05,0,0.05,0.1,0.15,0.2,0.25,0.3,0.35], "labelExpr": "abs(round(datum.value * 100)) % 10 == 0 ? (datum.value < -0.001 ? '-' + format(abs(datum.value), '.1f') : format(abs(datum.value), '.1f')) : ''", "title": "Signal (arb. units)", "titleFontSize": 27, "labelFontSize": 17, "labelPadding": 3, "titlePadding": 4}}
   }},
  {"data": {"name": "Lf"}, "mark": {"type": "line", "color": "#e8202a", "strokeWidth": 2.2, "interpolate": "monotone"}},
  {"data": {"name": "Lp"}, "mark": {"type": "point", "shape": "circle", "filled": false, "color": "#6cbf4a", "strokeWidth": 1, "size": 38, "opacity": 1},
   "encoding": {
    "x": {"field": "x", "type": "quantitative", "scale": {"domain": [-110, 100], "nice": false, "zero": false},
     "axis": {"orient": "top", "values": [-110,-100,-90,-80,-70,-60,-50,-40,-30,-20,-10,0,10,20,30,40,50,60,70,80,90,100], "labels": false, "title": null, "domain": false, "tickSize": 5}},
    "y": {"field": "y", "type": "quantitative", "scale": {"domain": [-0.232, 0.361], "nice": false, "zero": false},
     "axis": {"orient": "right", "values": [-0.2,-0.15,-0.1,-0.05,0,0.05,0.1,0.15,0.2,0.25,0.3,0.35], "labels": false, "title": null, "domain": false, "tickSize": 5}}
   }},
  {"data": {"name": "Lq"}, "mark": {"type": "line", "color": "#2c4c9c", "strokeWidth": 2.2, "interpolate": "monotone"}},
  {"data": {"name": "Lg"}, "transform": [{"filter": "datum.k == 'd'"}], "mark": {"type": "point", "shape": "circle", "filled": false, "color": "#1e1e1e", "strokeWidth": 1, "size": 38, "opacity": 1}},
  {"data": {"name": "Lg"}, "transform": [{"filter": "datum.k == 'f'"}], "mark": {"type": "point", "shape": "circle", "filled": false, "color": "#6cbf4a", "strokeWidth": 1, "size": 38, "opacity": 1}},
  {"data": {"name": "Lh"}, "transform": [{"filter": "datum.k == 'k'"}], "mark": {"type": "rule", "color": "#222", "strokeWidth": 1}, "encoding": {"x2": {"field": "x2"}}},
  {"data": {"name": "Lh"}, "transform": [{"filter": "datum.k == 'r'"}], "mark": {"type": "rule", "color": "#e8202a", "strokeWidth": 2.2}, "encoding": {"x2": {"field": "x2"}}},
  {"data": {"name": "Lh"}, "transform": [{"filter": "datum.k == 'b'"}], "mark": {"type": "rule", "color": "#2c4c9c", "strokeWidth": 2.2}, "encoding": {"x2": {"field": "x2"}}},
  {"data": {"name": "Lv"}, "mark": {"type": "rule", "color": "#222", "strokeWidth": 2}, "encoding": {"y2": {"field": "y2"}}},
  {"data": {"name": "Lt"}, "mark": {"type": "point", "filled": true, "color": "#222", "size": 40, "opacity": 1}, "encoding": {"shape": {"field": "s", "type": "nominal", "scale": {"domain": ["L", "R"], "range": ["triangle-left", "triangle-right"]}, "legend": null}}},
  {"data": {"name": "Ln"}, "transform": [{"filter": "datum.k == 'leg'"}], "mark": {"type": "text", "align": "left", "baseline": "middle", "fontSize": 23}, "encoding": {"text": {"field": "t", "type": "nominal"}}},
  {"data": {"name": "Ln"}, "transform": [{"filter": "datum.k == 'peak'"}], "mark": {"type": "text", "align": "center", "baseline": "middle", "fontSize": 25, "fontWeight": "bold"}, "encoding": {"text": {"field": "t", "type": "nominal"}}},
  {"data": {"name": "Ln"}, "transform": [{"filter": "datum.k == 'q'"}], "mark": {"type": "text", "align": "center", "baseline": "middle", "fontSize": 22, "fontWeight": "bold"}, "encoding": {"text": {"field": "t", "type": "nominal"}}},
  {"data": {"name": "Ln"}, "transform": [{"filter": "datum.k == 'mhz'"}], "mark": {"type": "text", "align": "center", "baseline": "middle", "fontSize": 21, "fontWeight": "bold"}, "encoding": {"text": {"field": "t", "type": "nominal"}}},
  {"data": {"name": "Ln"}, "transform": [{"filter": "datum.k == 'note'"}], "mark": {"type": "text", "align": "left", "baseline": "middle", "fontSize": 20, "fontWeight": "bold"}, "encoding": {"text": {"field": "t", "type": "nominal"}}},
  {"data": {"name": "Ln"}, "transform": [{"filter": "datum.k == 'cap'"}], "mark": {"type": "text", "align": "center", "baseline": "middle", "fontSize": 22, "font": "Liberation Serif"}, "encoding": {"text": {"field": "t", "type": "nominal"}}}
 ]
},
{
 "width": 540, "height": 407,
 "title": {"text": "⁸⁵Rb 5S₁/₂ (F=3) – 5P₃/₂ (F'=4) – 4D₅/₂ (F''=5,4,3)", "offset": -3},
 "resolve": {"axis": {"x": "independent", "y": "independent"}},
 "encoding": {
  "x": {"field": "x", "type": "quantitative", "scale": {"domain": [-50, 40], "nice": false, "zero": false}, "axis": null},
  "y": {"field": "y", "type": "quantitative", "scale": {"domain": [-0.6, 0.8], "nice": false, "zero": false}, "axis": null}
 },
 "layer": [
  {"data": {"name": "Rd"}, "mark": {"type": "point", "shape": "circle", "filled": false, "color": "#1e1e1e", "strokeWidth": 1, "size": 58, "opacity": 1},
   "encoding": {
    "x": {"field": "x", "type": "quantitative", "scale": {"domain": [-50, 40], "nice": false, "zero": false},
     "axis": {"orient": "bottom", "values": [-50,-40,-30,-20,-10,0,10,20,30,40], "labelExpr": "datum.value % 20 == 0 ? (datum.value < 0 ? '-' + abs(datum.value) : '' + datum.value) : ''", "title": "Frequency Detuning (MHz)", "titleFontSize": 27, "labelFontSize": 21, "labelPadding": 4, "titlePadding": 3, "labelFlush": false}},
    "y": {"field": "y", "type": "quantitative", "scale": {"domain": [-0.6, 0.8], "nice": false, "zero": false},
     "axis": {"orient": "left", "values": [-0.6,-0.5,-0.4,-0.3,-0.2,-0.1,0,0.1,0.2,0.3,0.4,0.5,0.6,0.7,0.8], "labelExpr": "abs(round(datum.value * 10)) % 2 == 0 ? (datum.value < -0.001 ? '-' + format(abs(datum.value), '.1f') : format(abs(datum.value), '.1f')) : ''", "title": "Signal (arb. units)", "titleFontSize": 27, "labelFontSize": 21, "labelPadding": 8, "titlePadding": 7, "labelFlush": false}}
   }},
  {"data": {"name": "Rf"}, "mark": {"type": "line", "color": "#e8202a", "strokeWidth": 2.2, "interpolate": "monotone"}},
  {"data": {"name": "Rp"}, "mark": {"type": "point", "shape": "circle", "filled": false, "color": "#6cbf4a", "strokeWidth": 1, "size": 58, "opacity": 1},
   "encoding": {
    "x": {"field": "x", "type": "quantitative", "scale": {"domain": [-50, 40], "nice": false, "zero": false},
     "axis": {"orient": "top", "values": [-50,-40,-30,-20,-10,0,10,20,30,40], "labels": false, "title": null, "domain": false, "tickSize": 5}},
    "y": {"field": "y", "type": "quantitative", "scale": {"domain": [-0.6, 0.8], "nice": false, "zero": false},
     "axis": {"orient": "right", "values": [-0.6,-0.5,-0.4,-0.3,-0.2,-0.1,0,0.1,0.2,0.3,0.4,0.5,0.6,0.7,0.8], "labels": false, "title": null, "domain": false, "tickSize": 5}}
   }},
  {"data": {"name": "Rq"}, "mark": {"type": "line", "color": "#2c4c9c", "strokeWidth": 2.2, "interpolate": "monotone"}},
  {"data": {"name": "Rg"}, "transform": [{"filter": "datum.k == 'd'"}], "mark": {"type": "point", "shape": "circle", "filled": false, "color": "#1e1e1e", "strokeWidth": 1, "size": 50, "opacity": 1}},
  {"data": {"name": "Rg"}, "transform": [{"filter": "datum.k == 'f'"}], "mark": {"type": "point", "shape": "circle", "filled": false, "color": "#6cbf4a", "strokeWidth": 1, "size": 50, "opacity": 1}},
  {"data": {"name": "Rh"}, "transform": [{"filter": "datum.k == 'k'"}], "mark": {"type": "rule", "color": "#222", "strokeWidth": 1}, "encoding": {"x2": {"field": "x2"}}},
  {"data": {"name": "Rh"}, "transform": [{"filter": "datum.k == 'r'"}], "mark": {"type": "rule", "color": "#e8202a", "strokeWidth": 2.2}, "encoding": {"x2": {"field": "x2"}}},
  {"data": {"name": "Rh"}, "transform": [{"filter": "datum.k == 'b'"}], "mark": {"type": "rule", "color": "#2c4c9c", "strokeWidth": 2.2}, "encoding": {"x2": {"field": "x2"}}},
  {"data": {"name": "Rv"}, "mark": {"type": "rule", "color": "#222", "strokeWidth": 2}, "encoding": {"y2": {"field": "y2"}}},
  {"data": {"name": "Rt"}, "mark": {"type": "point", "filled": true, "color": "#222", "size": 40, "opacity": 1}, "encoding": {"shape": {"field": "s", "type": "nominal", "scale": {"domain": ["L", "R"], "range": ["triangle-left", "triangle-right"]}, "legend": null}}},
  {"data": {"name": "Rn"}, "transform": [{"filter": "datum.k == 'leg'"}], "mark": {"type": "text", "align": "left", "baseline": "middle", "fontSize": 27}, "encoding": {"text": {"field": "t", "type": "nominal"}}},
  {"data": {"name": "Rn"}, "transform": [{"filter": "datum.k == 'peak'"}], "mark": {"type": "text", "align": "center", "baseline": "middle", "fontSize": 25, "fontWeight": "bold"}, "encoding": {"text": {"field": "t", "type": "nominal"}}},
  {"data": {"name": "Rn"}, "transform": [{"filter": "datum.k == 'q'"}], "mark": {"type": "text", "align": "center", "baseline": "middle", "fontSize": 22, "fontWeight": "bold"}, "encoding": {"text": {"field": "t", "type": "nominal"}}},
  {"data": {"name": "Rn"}, "transform": [{"filter": "datum.k == 'mhz'"}], "mark": {"type": "text", "align": "center", "baseline": "middle", "fontSize": 21, "fontWeight": "bold"}, "encoding": {"text": {"field": "t", "type": "nominal"}}},
  {"data": {"name": "Rn"}, "transform": [{"filter": "datum.k == 'note'"}], "mark": {"type": "text", "align": "left", "baseline": "middle", "fontSize": 20, "fontWeight": "bold"}, "encoding": {"text": {"field": "t", "type": "nominal"}}},
  {"data": {"name": "Rn"}, "transform": [{"filter": "datum.k == 'cap'"}], "mark": {"type": "text", "align": "center", "baseline": "middle", "fontSize": 22, "font": "Liberation Serif"}, "encoding": {"text": {"field": "t", "type": "nominal"}}}
 ]
}
]
}
